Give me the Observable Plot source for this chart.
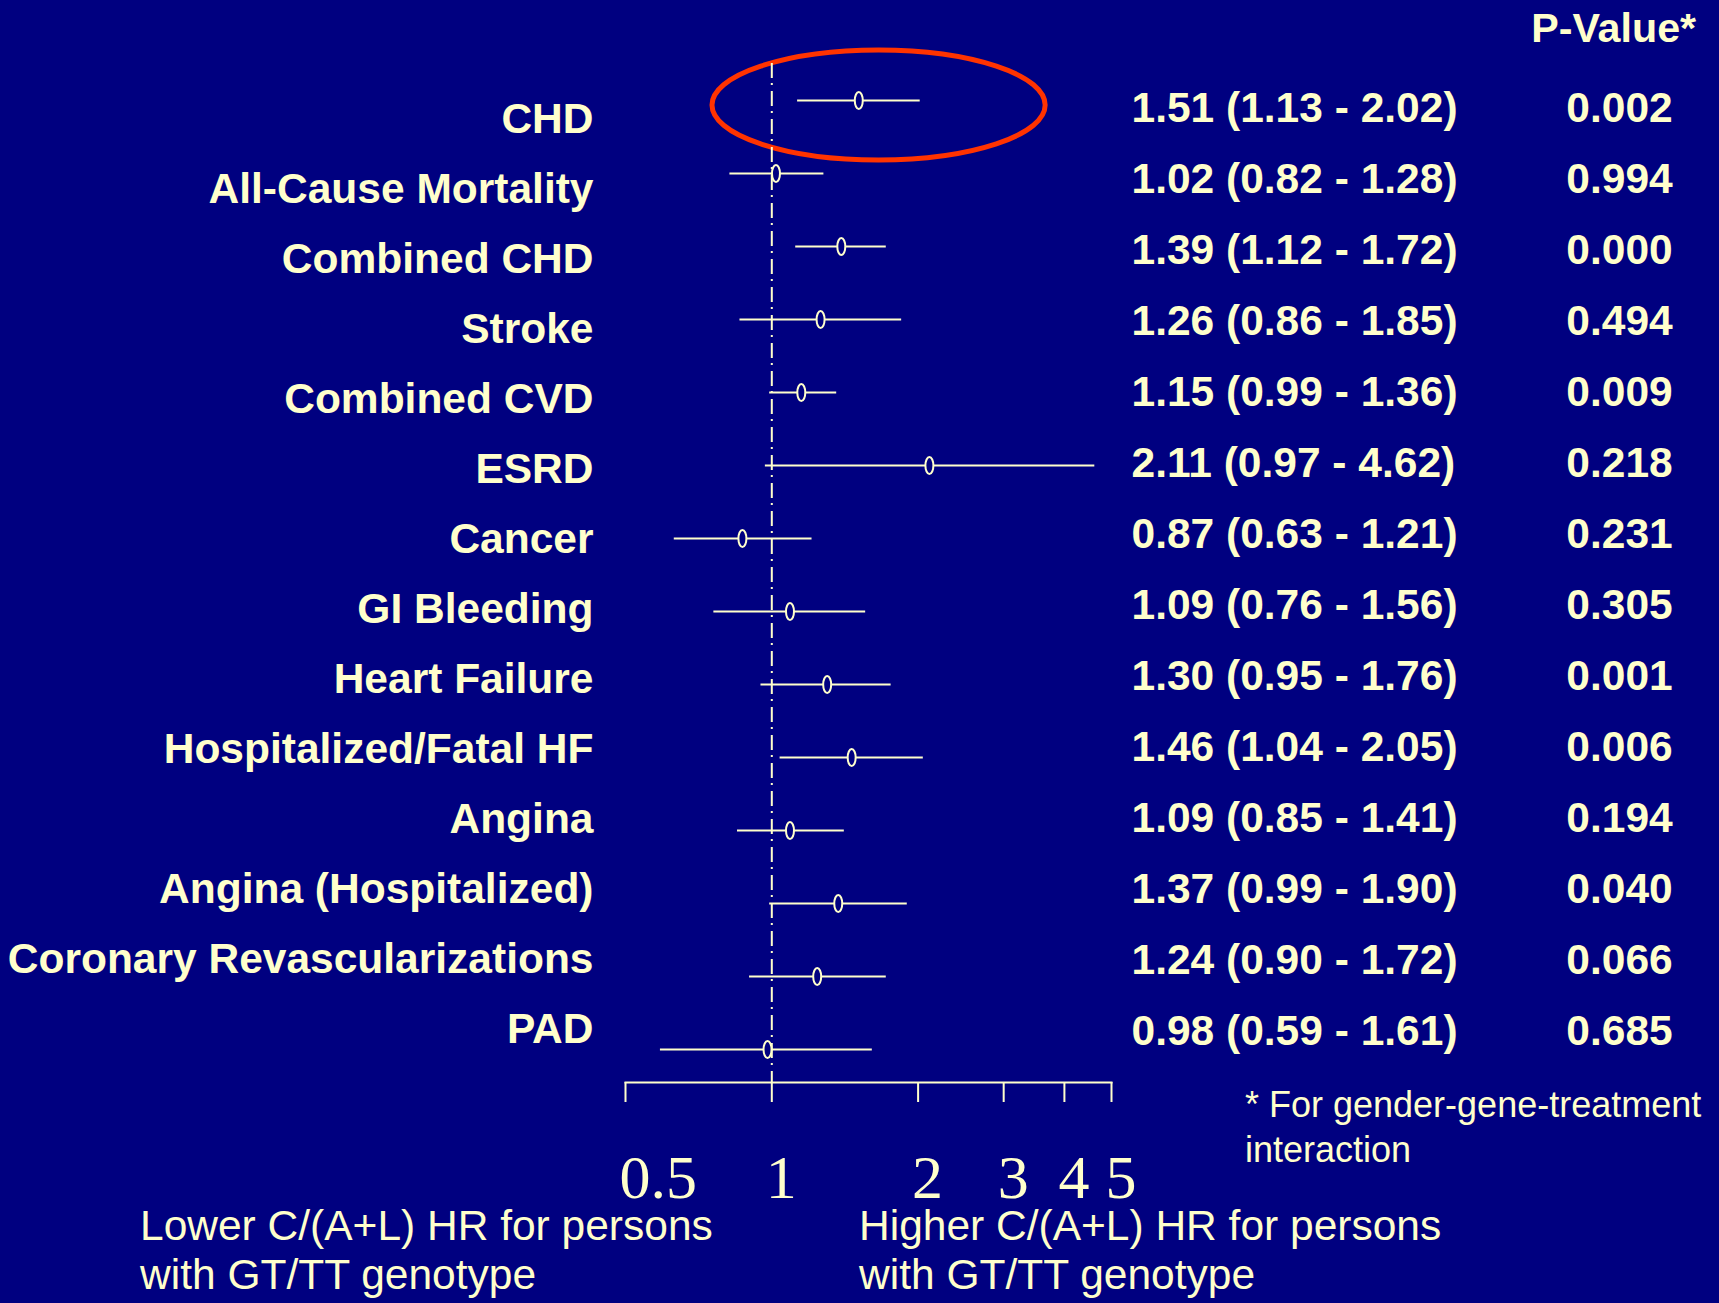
<!DOCTYPE html>
<html>
<head>
<meta charset="utf-8">
<script src="https://cdn.jsdelivr.net/npm/d3@7"></script>
<script src="https://cdn.jsdelivr.net/npm/@observablehq/plot@0.6"></script>
<style>
  html, body { margin: 0; padding: 0; background: #000080; }
  #stage { position: relative; width: 1719px; height: 1303px; background: #000080; overflow: hidden;
           font-family: "Liberation Sans", Arial, sans-serif; color: #FFFFCC; }
  #stage svg { position: absolute; left: 0; top: 0; background: transparent !important; max-width: none; }
  .note { position: absolute; white-space: nowrap; color: #FFFFCC; }
</style>
</head>
<body>
<div id="stage"></div>
<script>
// ---- data ----
const outcomes = [
  "CHD", "All-Cause Mortality", "Combined CHD", "Stroke", "Combined CVD", "ESRD", "Cancer",
  "GI Bleeding", "Heart Failure", "Hospitalized/Fatal HF", "Angina", "Angina (Hospitalized)",
  "Coronary Revascularizations", "PAD"
];
const hazardRatio = [1.51, 1.02, 1.39, 1.26, 1.15, 2.11, 0.87, 1.09, 1.30, 1.46, 1.09, 1.37, 1.24, 0.98];
const ciLower     = [1.13, 0.82, 1.12, 0.86, 0.99, 0.97, 0.63, 0.76, 0.95, 1.04, 0.85, 0.99, 0.90, 0.59];
const ciUpper     = [2.02, 1.28, 1.72, 1.85, 1.36, 4.62, 1.21, 1.56, 1.76, 2.05, 1.41, 1.90, 1.72, 1.61];
const pValues     = [0.002, 0.994, 0.000, 0.494, 0.009, 0.218, 0.231, 0.305, 0.001, 0.006, 0.194, 0.040, 0.066, 0.685];
const xTicks = [0.5, 1, 2, 3, 4, 5];
const referenceHR = 1;
const highlight = { outcome: "CHD", x1: 0.755, x2: 3.66 };

// ---- styling ----
const cream = "#FFFFCC";
const navy = "#000080";
const W = 1719, H = 1303;

const rows = outcomes.map((outcome, i) => ({
  outcome,
  hr: hazardRatio[i],
  lo: ciLower[i],
  hi: ciUpper[i],
  p: pValues[i],
  hrText: `${hazardRatio[i].toFixed(2)} (${ciLower[i].toFixed(2)} - ${ciUpper[i].toFixed(2)})`,
  pText: pValues[i].toFixed(3)
}));

// hollow vertical ellipse marker
const ellipseSymbol = {
  draw(ctx) {
    const rx = 4, ry = 8.5, k = 0.5523;
    ctx.moveTo(rx, 0);
    ctx.bezierCurveTo(rx, k * ry, k * rx, ry, 0, ry);
    ctx.bezierCurveTo(-k * rx, ry, -rx, k * ry, -rx, 0);
    ctx.bezierCurveTo(-rx, -k * ry, -k * rx, -ry, 0, -ry);
    ctx.bezierCurveTo(k * rx, -ry, rx, -k * ry, rx, 0);
    ctx.closePath();
  }
};

function highlightEllipse(index, scales) {
  const x1 = scales.x(highlight.x1), x2 = scales.x(highlight.x2);
  const cy = scales.y(highlight.outcome) + 5;
  const g = d3.create("svg:g");
  g.append("ellipse")
    .attr("cx", (x1 + x2) / 2).attr("cy", cy)
    .attr("rx", (x2 - x1) / 2).attr("ry", 55)
    .attr("fill", "none").attr("stroke", "#FF3300").attr("stroke-width", 5);
  return g.node();
}

const baseStyle = { background: "transparent", color: cream, fontFamily: "'Liberation Sans', Arial, sans-serif", overflow: "visible" };

// main forest plot
const main = Plot.plot({
  width: W, height: H,
  marginLeft: 625, marginRight: 608, marginTop: 63, marginBottom: 221,
  insetTop: 35, insetBottom: 32,
  x: { type: "log", domain: [0.5, 5] },
  y: { type: "point", domain: outcomes, padding: 0, axis: null },
  style: baseStyle,
  marks: [
    highlightEllipse,
    Plot.ruleX([referenceHR], { stroke: cream, strokeWidth: 2, strokeDasharray: "15,5,2,6" }),
    Plot.frame({ anchor: "bottom", stroke: cream, strokeWidth: 2 }),
    Plot.axisX({ ticks: xTicks, tickSize: 20, tickFormat: () => "", stroke: cream, strokeWidth: 2 }),
    Plot.text(xTicks, {
      x: d => d, text: d => String(d), frameAnchor: "bottom", lineAnchor: "top", textAnchor: "start",
      dy: 71, dx: -6, fontSize: 62, fontFamily: "'Liberation Serif', 'Times New Roman', serif", fill: cream
    }),
    Plot.ruleY(rows, { y: "outcome", x1: "lo", x2: "hi", stroke: cream, strokeWidth: 2 }),
    Plot.dot(rows, { x: "hr", y: "outcome", symbol: ellipseSymbol, r: 5, fill: navy, stroke: cream, strokeWidth: 2 })
  ]
});

// left outcome labels
const labels = Plot.plot({
  width: W, height: H,
  marginLeft: 0, marginRight: W - 593, marginTop: 128, marginBottom: H - 1045,
  y: { type: "point", domain: outcomes, padding: 0, axis: null },
  style: baseStyle,
  marks: [
    Plot.text(rows, {
      y: "outcome", text: "outcome", frameAnchor: "right", textAnchor: "end", lineAnchor: "bottom",
      fontSize: 42.5, fontWeight: "bold", fill: cream
    })
  ]
});

// right columns: HR (95% CI) and P-value
const right = Plot.plot({
  width: W, height: H,
  marginLeft: 1131, marginRight: 100, marginTop: 115, marginBottom: H - 1050,
  y: { type: "point", domain: outcomes, padding: 0, axis: null },
  style: baseStyle,
  marks: [
    Plot.text(rows, {
      y: "outcome", text: "hrText", frameAnchor: "left", textAnchor: "start", lineAnchor: "bottom",
      fontSize: 42.5, fontWeight: "bold", fill: cream
    }),
    Plot.text(rows, {
      y: "outcome", text: "pText", frameAnchor: "right", textAnchor: "middle", lineAnchor: "bottom",
      fontSize: 42.5, fontWeight: "bold", fill: cream
    })
  ]
});

const stage = document.getElementById("stage");
stage.append(main, labels, right);

function note(html, css) {
  const d = document.createElement("div");
  d.className = "note";
  d.innerHTML = html;
  Object.assign(d.style, css);
  stage.append(d);
}
note("P-Value*", { right: "23px", top: "8px", fontSize: "40px", lineHeight: "40px", fontWeight: "bold",
                   transform: "scaleX(1.03)", transformOrigin: "right center" });
note("* For gender-gene-treatment<br>interaction", { left: "1245px", top: "1082px", fontSize: "36px", lineHeight: "45px" });
note("Lower C/(A+L) HR for persons<br>with GT/TT genotype", { left: "140px", top: "1201px", fontSize: "42.5px", lineHeight: "49px" });
note("Higher C/(A+L) HR for persons<br>with GT/TT genotype", { left: "859px", top: "1201px", fontSize: "42.5px", lineHeight: "49px" });
</script>
</body>
</html>
